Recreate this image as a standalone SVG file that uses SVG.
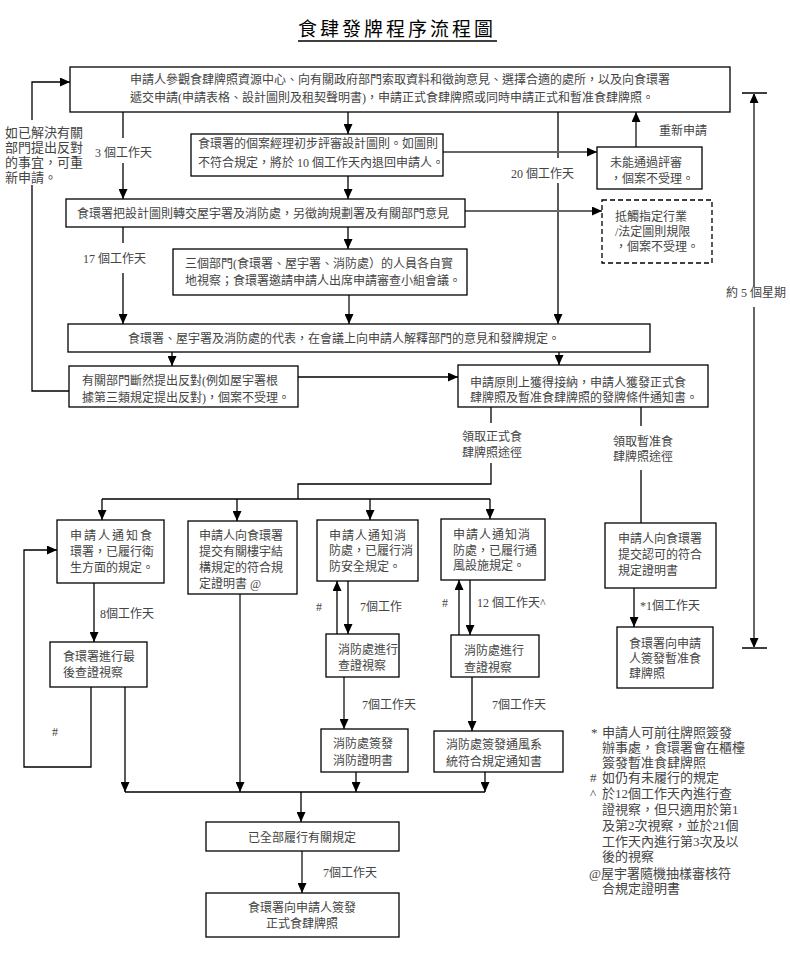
<svg xmlns="http://www.w3.org/2000/svg" width="790" height="966" viewBox="0 0 790 966">
<defs>
<marker id="a" markerWidth="10" markerHeight="9" refX="10" refY="4.5" orient="auto" markerUnits="userSpaceOnUse"><path d="M0,0 L10,4.5 L0,9 z" fill="#000"/></marker>
<style>
.b{fill:#fff;stroke:#000;stroke-width:1.3}
.d{fill:#fff;stroke:#000;stroke-width:1.3;stroke-dasharray:5,3}
.t{font-family:"Liberation Serif","Noto Sans CJK TC",serif;font-size:12px;fill:#444}
.f{font-family:"Liberation Serif","Noto Sans CJK TC",serif;font-size:13px;fill:#444}
.c{text-anchor:middle}
.l{fill:none;stroke:#000;stroke-width:1.3}
.g{fill:none;stroke:#666;stroke-width:2}
.h{font-family:"Liberation Serif","Noto Sans CJK TC",serif;font-size:19px;fill:#000;letter-spacing:3px}
</style>
</defs>
<rect width="790" height="966" fill="#fff"/>
<g id="title">
<text class="h c" x="397" y="36">食肆發牌程序流程圖</text>
<line x1="298" y1="41" x2="497" y2="41" stroke="#000" stroke-width="1.3"/>
</g>
<g id="connectors">
<path class="l" d="M348,112 V134" marker-end="url(#a)"/>
<path class="l" d="M348,176 V199" marker-end="url(#a)"/>
<path class="l" d="M348,227 V249" marker-end="url(#a)"/>
<path class="g" d="M349,295 V324" marker-end="url(#a)"/>
<path class="l" d="M123,112 V138"/>
<path class="l" d="M123,163 V199" marker-end="url(#a)"/>
<path class="l" d="M123,227 V243"/>
<path class="l" d="M123,273 V324" marker-end="url(#a)"/>
<path class="l" d="M558,112 V158"/>
<path class="l" d="M558,183 V324" marker-end="url(#a)"/>
<path class="g" d="M443,152 H597" marker-end="url(#a)"/>
<path class="g" d="M636,147 V112" marker-end="url(#a)"/>
<path class="g" d="M465,211 H602" marker-end="url(#a)"/>
<path class="l" d="M172,352 V366" marker-end="url(#a)"/>
<path class="l" d="M559,352 V365" marker-end="url(#a)"/>
<path class="l" d="M298,377 H458" marker-end="url(#a)"/>
<path class="l" d="M69,391 H32 V185"/>
<path class="l" d="M32,120 V82 H70" marker-end="url(#a)"/>
<path class="l" d="M742,93 H767 M742,648 H767"/>
<path class="g" d="M754,287 V93" marker-end="url(#a)"/>
<path class="g" d="M754,307 V648" marker-end="url(#a)"/>
<path class="l" d="M491,407 V423"/>
<path class="l" d="M491,463 V484 H298 V499 M102,499 H490"/>
<path class="l" d="M102,499 V520" marker-end="url(#a)"/>
<path class="l" d="M237,499 V521" marker-end="url(#a)"/>
<path class="l" d="M370,499 V520" marker-end="url(#a)"/>
<path class="l" d="M490,499 V519" marker-end="url(#a)"/>
<path class="l" d="M641,407 V426 M641,470 V523"/>
<path class="l" d="M634,588 V627" marker-end="url(#a)"/>
<path class="l" d="M94,583 V642" marker-end="url(#a)"/>
<path class="l" d="M91,687 V767 H24 V550 H57" marker-end="url(#a)"/>
<path class="l" d="M125,687 V792" marker-end="url(#a)"/>
<path class="g" d="M240,594 V792" marker-end="url(#a)"/>
<path class="l" d="M348,581 V634" marker-end="url(#a)"/>
<path class="l" d="M337,634 V581" marker-end="url(#a)"/>
<path class="g" d="M344,677 V729" marker-end="url(#a)"/>
<path class="l" d="M356,772 V792" marker-end="url(#a)"/>
<path class="l" d="M470,580 V635" marker-end="url(#a)"/>
<path class="l" d="M459,635 V580" marker-end="url(#a)"/>
<path class="l" d="M472,677 V731" marker-end="url(#a)"/>
<path class="l" d="M485,772 V792" marker-end="url(#a)"/>
<path class="l" d="M125,792 H485"/>
<path class="l" d="M301,792 V822" marker-end="url(#a)"/>
<path class="g" d="M302,851 V893" marker-end="url(#a)"/>
</g>
<g id="labels">
<text class="t" x="95" y="157">3 個工作天</text>
<text class="t" x="83" y="263">17 個工作天</text>
<text class="t" x="511" y="178">20 個工作天</text>
<text class="t" x="659" y="135">重新申請</text>
<text class="t" x="726" y="297">約 5 個星期</text>
<text class="t" x="462" y="441">領取正式食</text>
<text class="t" x="462" y="457">肆牌照途徑</text>
<text class="t" x="613" y="446">領取暫准食</text>
<text class="t" x="613" y="461">肆牌照途徑</text>
<text class="t" x="100" y="617.5">8個工作天</text>
<text class="t" x="640" y="610">*1個工作天</text>
<text class="t" x="316" y="611">#</text>
<text class="t" x="360" y="611">7個工作</text>
<text class="t" x="442" y="607">#</text>
<text class="t" x="477" y="607">12 個工作天^</text>
<text class="t" x="362" y="709">7個工作天</text>
<text class="t" x="492" y="709">7個工作天</text>
<text class="t" x="52" y="736">#</text>
<text class="t" x="323" y="877">7個工作天</text>
<text class="f" x="5" y="137">如已解決有關</text>
<text class="f" x="5" y="152">部門提出反對</text>
<text class="f" x="5" y="167">的事宜，可重</text>
<text class="f" x="5" y="182">新申請。</text>
</g>
<g id="n1"><rect class="b" x="70" y="67" width="660" height="45"/>
<text class="t" x="130" y="84">申請人參觀食肆牌照資源中心、向有關政府部門索取資料和徵詢意見、選擇合適的處所，以及向食環署</text>
<text class="t" x="130" y="102">遞交申請(申請表格、設計圖則及租契聲明書)，申請正式食肆牌照或同時申請正式和暫准食肆牌照。</text></g>
<g id="n2"><rect class="b" x="191" y="134" width="252" height="42"/>
<text class="t" x="198" y="147.5">食環署的個案經理初步評審設計圖則。如圖則</text>
<text class="t" x="198" y="166.5">不符合規定，將於 10 個工作天內退回申請人。</text></g>
<g id="n3"><rect class="b" x="597" y="147" width="105" height="42"/>
<text class="t" x="610" y="166.5">未能通過評審</text>
<text class="t" x="610" y="182.5">，個案不受理。</text></g>
<g id="n4"><rect class="b" x="66" y="199" width="399" height="28"/>
<text class="t" x="77" y="218">食環署把設計圖則轉交屋宇署及消防處，另徵詢規劃署及有關部門意見</text></g>
<g id="n5"><rect class="d" x="602" y="200" width="110" height="63"/>
<text class="t" x="615" y="221">抵觸指定行業</text>
<text class="t" x="615" y="236">/法定圖則規限</text>
<text class="t" x="615" y="251">，個案不受理。</text></g>
<g id="n6"><rect class="b" x="173" y="249" width="294" height="46"/>
<text class="t" x="185" y="267.5">三個部門(食環署、屋宇署、消防處）的人員各自實</text>
<text class="t" x="185" y="284.5">地視察；食環署邀請申請人出席申請審查小組會議。</text></g>
<g id="n7"><rect class="b" x="68" y="324" width="582" height="28"/>
<text class="t" x="128" y="343">食環署、屋宇署及消防處的代表，在會議上向申請人解釋部門的意見和發牌規定。</text></g>
<g id="n8"><rect class="b" x="69" y="366" width="229" height="41"/>
<text class="t" x="82" y="384.5">有關部門斷然提出反對(例如屋宇署根</text>
<text class="t" x="82" y="401.5">據第三類規定提出反對)，個案不受理。</text></g>
<g id="n9"><rect class="b" x="458" y="365" width="250" height="42"/>
<text class="t" x="470" y="386.5">申請原則上獲得接納，申請人獲發正式食</text>
<text class="t" x="470" y="401.5">肆牌照及暫准食肆牌照的發牌條件通知書。</text></g>
<g id="n10"><rect class="b" x="57" y="520" width="107" height="63"/>
<text class="t" x="70" y="539.5" letter-spacing="2">申請人通知食</text>
<text class="t" x="70" y="555.5">環署，已履行衛</text>
<text class="t" x="70" y="571.5">生方面的規定。</text></g>
<g id="n11"><rect class="b" x="188" y="521" width="109" height="73"/>
<text class="t" x="199" y="539.5">申請人向食環署</text>
<text class="t" x="199" y="556">提交有關樓宇結</text>
<text class="t" x="199" y="572">構規定的符合規</text>
<text class="t" x="199" y="587.5">定證明書 @</text></g>
<g id="n12"><rect class="b" x="317" y="520" width="101" height="61"/>
<text class="t" x="329" y="539.5" letter-spacing="1">申請人通知消</text>
<text class="t" x="329" y="555">防處，已履行消</text>
<text class="t" x="329" y="570.5">防安全規定。</text></g>
<g id="n13"><rect class="b" x="441" y="519" width="104" height="61"/>
<text class="t" x="453" y="539" letter-spacing="1">申請人通知消</text>
<text class="t" x="453" y="554.5">防處，已履行通</text>
<text class="t" x="453" y="570">風設施規定。</text></g>
<g id="n14"><rect class="b" x="605" y="523" width="111" height="65"/>
<text class="t" x="618" y="542.5">申請人向食環署</text>
<text class="t" x="618" y="558.5">提交認可的符合</text>
<text class="t" x="618" y="574.5">規定證明書</text></g>
<g id="n15"><rect class="b" x="617" y="627" width="96" height="61"/>
<text class="t" x="629" y="647.5">食環署向申請</text>
<text class="t" x="629" y="662.5">人簽發暫准食</text>
<text class="t" x="629" y="677.5">肆牌照</text></g>
<g id="n16"><rect class="b" x="50" y="642" width="97" height="45"/>
<text class="t" x="63" y="660.5">食環署進行最</text>
<text class="t" x="63" y="676.5">後查證視察</text></g>
<g id="n17"><rect class="b" x="326" y="634" width="73" height="43"/>
<text class="t" x="338" y="653.5">消防處進行</text>
<text class="t" x="338" y="669.5">查證視察</text></g>
<g id="n18"><rect class="b" x="451" y="635" width="88" height="42"/>
<text class="t" x="464" y="654.5">消防處進行</text>
<text class="t" x="464" y="671.5">查證視察</text></g>
<g id="n19"><rect class="b" x="321" y="729" width="87" height="43"/>
<text class="t" x="333" y="747.5">消防處簽發</text>
<text class="t" x="333" y="764.5">消防證明書</text></g>
<g id="n20"><rect class="b" x="434" y="731" width="129" height="41"/>
<text class="t" x="446" y="748.5">消防處簽發通風系</text>
<text class="t" x="446" y="765.5">統符合規定通知書</text></g>
<g id="n21"><rect class="b" x="206" y="822" width="193" height="29"/>
<text class="t c" x="302" y="841.5">已全部履行有關規定</text></g>
<g id="n22"><rect class="b" x="206" y="893" width="193" height="44"/>
<text class="t c" x="302" y="911.5">食環署向申請人簽發</text>
<text class="t c" x="302" y="927.5">正式食肆牌照</text></g>
<g id="notes">
<text class="f" x="591" y="736.5">*</text>
<text class="f" x="602" y="736.5">申請人可前往牌照簽發</text>
<text class="f" x="602" y="751.5">辦事處，食環署會在櫃檯</text>
<text class="f" x="602" y="766.5">簽發暫准食肆牌照</text>
<text class="f" x="590" y="781.5">#</text>
<text class="f" x="602" y="781.5">如仍有未履行的規定</text>
<text class="f" x="590" y="797.5">^</text>
<text class="f" x="602" y="797.5">於12個工作天內進行查</text>
<text class="f" x="602" y="813.5">證視察，但只適用於第1</text>
<text class="f" x="602" y="829.5">及第2次視察，並於21個</text>
<text class="f" x="602" y="845.5">工作天內進行第3次及以</text>
<text class="f" x="602" y="860.5">後的視察</text>
<text class="f" x="589" y="877.5">@屋宇署隨機抽樣審核符</text>
<text class="f" x="602" y="892.5">合規定證明書</text>
</g>
</svg>
